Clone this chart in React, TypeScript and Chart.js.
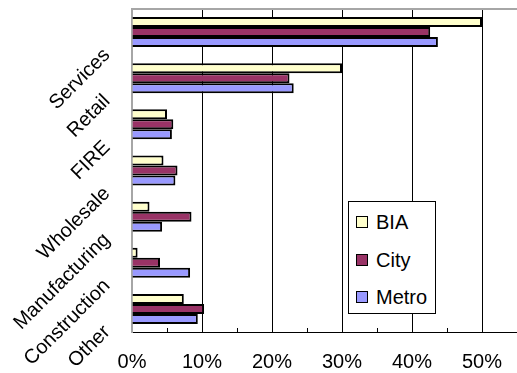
import React, { useEffect, useRef } from 'react';
import { Chart, registerables } from 'chart.js';

Chart.register(...registerables);

// ---- data ----
const CATEGORIES = ['Services', 'Retail', 'FIRE', 'Wholesale', 'Manufacturing', 'Construction', 'Other'];
const SERIES_NAMES = ['BIA', 'City', 'Metro'];
const BIA = [50, 30, 5.0, 4.5, 2.5, 0.8, 7.4];
const CITY = [42.6, 22.5, 5.9, 6.5, 8.5, 4.0, 10.3];
const METRO = [43.7, 23.1, 5.7, 6.2, 4.3, 8.3, 9.4];
const SERIES_VALUES = [BIA, CITY, METRO];
const SERIES_COLORS = ['#FFFFCC', '#993366', '#9999FF'];
const X_MAX = 55;
const X_STEP = 5;
const LABEL_STEP = 10;
const LABEL_MAX = 50;

const FONT = "'Liberation Sans', Arial, sans-serif";
const FRAME_COLOR = '#a6a6a6';

const isLabelTick = (v: number) => {
  const r = Math.round(v);
  return r % LABEL_STEP === 0 && r <= LABEL_MAX;
};

// draws the grey top edge of the plot area
const plotFramePlugin = {
  id: 'plotFrame',
  beforeDatasetsDraw(chart: any) {
    const { ctx, chartArea } = chart;
    ctx.save();
    ctx.strokeStyle = FRAME_COLOR;
    ctx.lineWidth = 2;
    ctx.beginPath();
    ctx.moveTo(chartArea.left, chartArea.top);
    ctx.lineTo(chartArea.right, chartArea.top);
    ctx.stroke();
    ctx.restore();
  },
};

export default function App() {
  const canvasRef = useRef<HTMLCanvasElement>(null);

  useEffect(() => {
    document.body.style.margin = '0';
    const canvas = canvasRef.current;
    if (!canvas) return;
    const chart = new Chart(canvas, {
      type: 'bar',
      data: {
        labels: CATEGORIES,
        datasets: SERIES_NAMES.map((name, i) => ({
          label: name,
          data: SERIES_VALUES[i],
          backgroundColor: SERIES_COLORS[i],
          borderColor: '#000000',
          borderWidth: 2,
          categoryPercentage: 0.65,
          barPercentage: 1.0,
        })),
      },
      plugins: [plotFramePlugin],
      options: {
        indexAxis: 'y',
        animation: false,
        responsive: false,
        devicePixelRatio: 1,
        layout: { padding: { top: 9, right: 0, left: 0, bottom: 0 } },
        plugins: {
          legend: { display: false },
          tooltip: { enabled: false },
        },
        scales: {
          x: {
            type: 'linear',
            position: 'bottom',
            min: 0,
            max: X_MAX,
            grid: {
              color: (ctx: any) => {
                const v = ctx.tick ? Math.round(ctx.tick.value) : 0;
                return v > 0 && isLabelTick(v) ? '#000000' : 'rgba(0,0,0,0)';
              },
              tickColor: (ctx: any) => {
                const v = ctx.tick ? Math.round(ctx.tick.value) : 0;
                return v > 0 && v < X_MAX ? '#000000' : 'rgba(0,0,0,0)';
              },
              lineWidth: 1,
              drawTicks: true,
              tickLength: -4,
            },
            border: { display: true, color: '#000000', width: 1 },
            ticks: {
              stepSize: X_STEP,
              autoSkip: false,
              maxRotation: 0,
              minRotation: 0,
              padding: 22,
              color: '#000000',
              font: { family: FONT, size: 20 },
              callback: (v: any) => (isLabelTick(Number(v)) ? `${Math.round(Number(v))}%` : ''),
            },
            afterFit: (scale: any) => {
              scale.height = 41;
              scale.paddingLeft = 0;
              scale.paddingRight = 0;
              scale.paddingTop = 0;
              scale.paddingBottom = 0;
            },
          },
          y: {
            type: 'category',
            position: 'left',
            grid: { display: false, drawTicks: false },
            border: { display: true, color: FRAME_COLOR, width: 2 },
            ticks: {
              minRotation: 45,
              maxRotation: 45,
              autoSkip: false,
              labelOffset: 20,
              padding: 25,
              color: '#000000',
              font: { family: FONT, size: 20 },
            },
            afterFit: (scale: any) => {
              scale.width = 132;
              scale.paddingTop = 0;
              scale.paddingBottom = 0;
              scale.paddingLeft = 0;
              scale.paddingRight = 0;
            },
          },
        },
      },
    });
    return () => chart.destroy();
  }, []);

  return (
    <div style={{ position: 'fixed', left: 0, top: 0, width: 517, height: 373, background: '#ffffff' }}>
      <canvas ref={canvasRef} width={517} height={373} style={{ width: 517, height: 373, display: 'block' }} />
      <div
        style={{
          position: 'absolute',
          left: 348,
          top: 201,
          width: 88,
          height: 113,
          border: '1px solid #000000',
          background: '#ffffff',
          boxSizing: 'border-box',
          paddingTop: 1,
          fontFamily: FONT,
          fontSize: 20,
          color: '#000000',
        }}
      >
        {SERIES_NAMES.map((name, i) => (
          <div key={name} style={{ height: 37.7, display: 'flex', alignItems: 'center' }}>
            <span
              style={{
                display: 'inline-block',
                width: 12,
                height: 12,
                marginLeft: 7,
                marginRight: 8,
                background: SERIES_COLORS[i],
                border: '1.5px solid #000000',
                boxSizing: 'border-box',
              }}
            />
            <span style={{ lineHeight: '20px' }}>{name}</span>
          </div>
        ))}
      </div>
    </div>
  );
}
